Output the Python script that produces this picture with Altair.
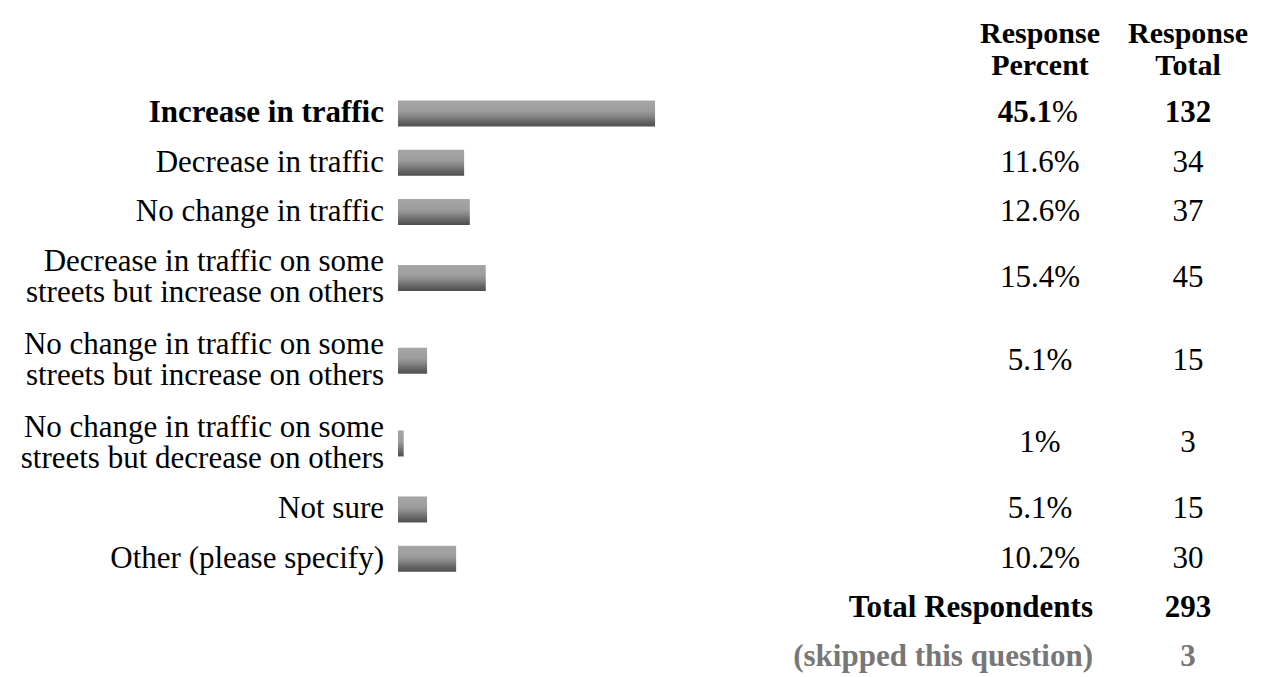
import altair as alt
import pandas as pd

# ---- data ----
answers = [
    ["Increase in traffic"],
    ["Decrease in traffic"],
    ["No change in traffic"],
    ["Decrease in traffic on some", "streets but increase on others"],
    ["No change in traffic on some", "streets but increase on others"],
    ["No change in traffic on some", "streets but decrease on others"],
    ["Not sure"],
    ["Other (please specify)"],
]
percents = [45.1, 11.6, 12.6, 15.4, 5.1, 1.0, 5.1, 10.2]
totals = [132, 34, 37, 45, 15, 3, 15, 30]
header_percent = ["Response", "Percent"]
header_total = ["Response", "Total"]
summary_labels = ["Total Respondents", "(skipped this question)"]
summary_values = [293, 3]

# ---- layout helpers (row heights from number of text lines) ----
W, H = 1248, 668
TOP = 77
SINGLE, DOUBLE = 50, 84
FONT = "Liberation Serif"
FS = 31
LH = 31

rows = []
y = TOP
for i, (lab, p, t) in enumerate(zip(answers, percents, totals)):
    h = SINGLE if len(lab) == 1 else DOUBLE
    rows.append({"label": lab, "pct": p, "total": str(t),
                 "pct_txt": f"{p:g}%", "num_txt": f"{p:g}",
                 "yc": y + h / 2, "multi": len(lab) > 1, "first": i == 0})
    y += h
df = pd.DataFrame(rows)

summ = []
for lab, v in zip(summary_labels, summary_values):
    summ.append({"label": lab, "value": str(v), "yc": y + SINGLE / 2,
                 "skipped": lab.startswith("(")})
    y += SINGLE
sdf = pd.DataFrame(summ)

hdf = pd.DataFrame([{"p": header_percent, "t": header_total, "yc": 38}])

XS = alt.Scale(domain=[0, 100], range=[390, 960])
X = alt.X("pct:Q", scale=XS, axis=None)
Y = alt.Y("yc:Q", scale=alt.Scale(domain=[0, H], range=[0, H]), axis=None)

base = alt.Chart(df)

grad = alt.Gradient(
    gradient="linear", x1=0, y1=0, x2=0, y2=1,
    stops=[
        alt.GradientStop(color="#a6a6a6", offset=0),
        alt.GradientStop(color="#9d9d9d", offset=0.4),
        alt.GradientStop(color="#868686", offset=0.6),
        alt.GradientStop(color="#676767", offset=0.8),
        alt.GradientStop(color="#4e4e4e", offset=1),
    ],
)

bars = base.mark_bar(orient="horizontal", size=26, color=grad).encode(x=X, y=Y)

lab_kw = dict(font=FONT, fontSize=FS, lineHeight=LH, align="right",
              baseline="middle", color="#000000")
labels_bold = base.transform_filter("datum.first").mark_text(
    fontWeight="bold", dx=-14, **lab_kw).encode(x=alt.datum(0), y=Y, text="label")
labels_single = base.transform_filter("!datum.first && !datum.multi").mark_text(
    dx=-14, **lab_kw).encode(x=alt.datum(0), y=Y, text="label")
labels_multi = base.transform_filter("datum.multi").mark_text(
    dx=-14, dy=-LH / 2, **lab_kw).encode(x=alt.datum(0), y=Y, text="label")

col_kw = dict(font=FONT, fontSize=FS, baseline="middle", color="#000000")
PCX, TOTX, SPLIT = 1032, 1180, 1044

pct_norm = base.transform_filter("!datum.first").mark_text(align="center", **col_kw).encode(
    x=alt.value(PCX), y=Y, text="pct_txt")
pct_bold_num = base.transform_filter("datum.first").mark_text(
    align="right", fontWeight="bold", **col_kw).encode(
    x=alt.value(SPLIT), y=Y, text="num_txt")
pct_bold_sign = base.transform_filter("datum.first").mark_text(
    align="left", **col_kw).encode(
    x=alt.value(SPLIT), y=Y, text=alt.value("%"))

tot_norm = base.transform_filter("!datum.first").mark_text(align="center", **col_kw).encode(
    x=alt.value(TOTX), y=Y, text="total")
tot_bold = base.transform_filter("datum.first").mark_text(
    align="center", fontWeight="bold", **col_kw).encode(
    x=alt.value(TOTX), y=Y, text="total")

hbase = alt.Chart(hdf)
head_kw = dict(font=FONT, fontSize=30, lineHeight=32, baseline="middle", dy=-16,
               fontWeight="bold", align="center", color="#000000")
head_p = hbase.mark_text(**head_kw).encode(x=alt.value(PCX), y=Y, text="p")
head_t = hbase.mark_text(**head_kw).encode(x=alt.value(TOTX), y=Y, text="t")

sbase = alt.Chart(sdf)
scol = alt.condition("datum.skipped", alt.value("#777777"), alt.value("#000000"))
sum_lab = sbase.mark_text(font=FONT, fontSize=FS, baseline="middle", fontWeight="bold",
                          align="right").encode(
    x=alt.value(1085), y=Y, text="label", color=scol)
sum_val = sbase.mark_text(font=FONT, fontSize=FS, baseline="middle", fontWeight="bold",
                          align="center").encode(
    x=alt.value(TOTX), y=Y, text="value", color=scol)

chart = alt.layer(
    bars, labels_bold, labels_single, labels_multi, pct_norm, pct_bold_num, pct_bold_sign,
    tot_norm, tot_bold, head_p, head_t, sum_lab, sum_val,
).properties(
    width=W, height=H, padding=0, autosize=alt.AutoSizeParams(type="none")
).configure_view(stroke="transparent", strokeWidth=0)

chart.save("out.html", embed_options={"renderer": "svg", "actions": False})
